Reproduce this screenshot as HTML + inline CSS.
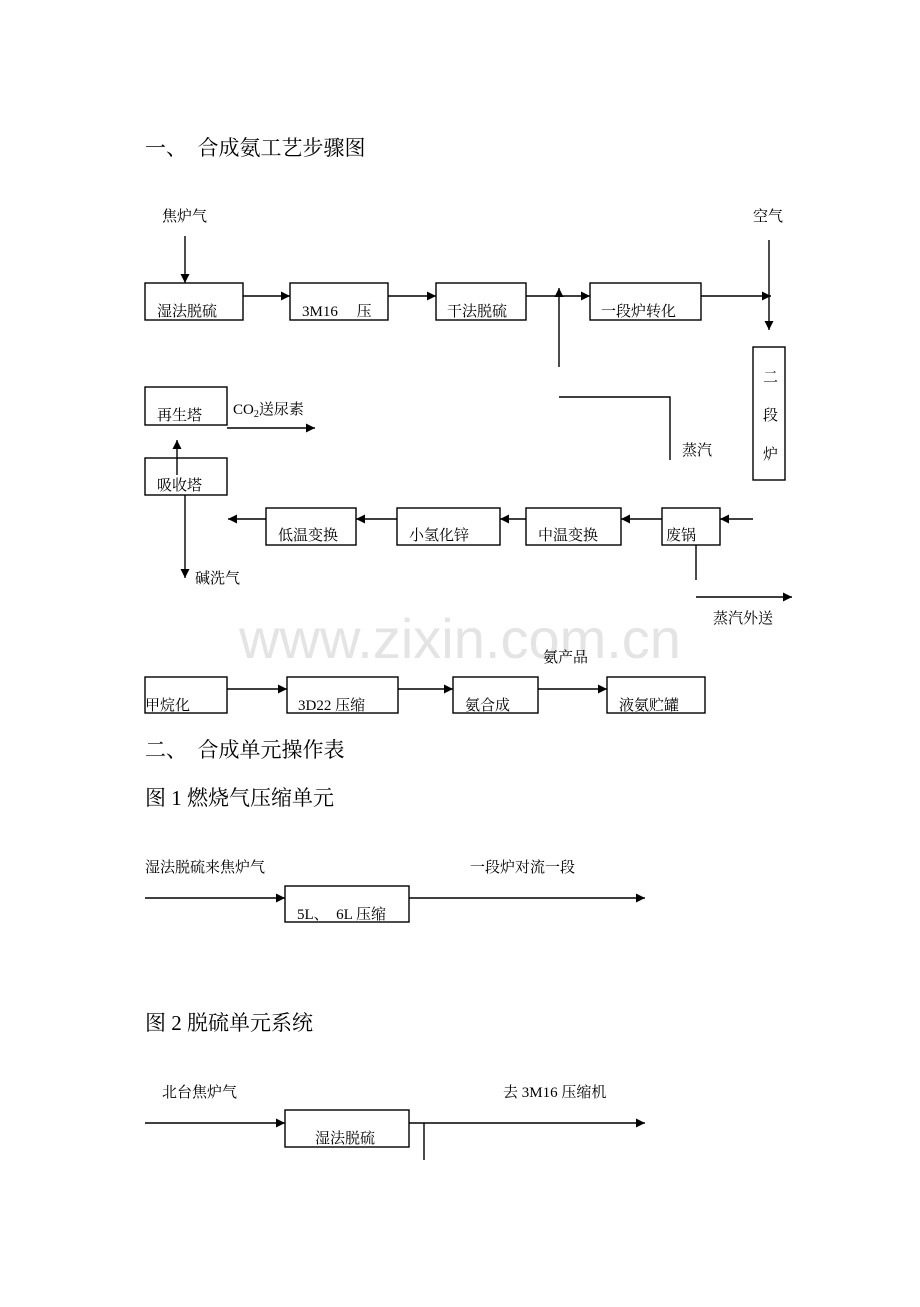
<!DOCTYPE html>
<html><head><meta charset="utf-8"><style>
html,body{margin:0;padding:0;background:#fff}
svg text{font-family:"Liberation Serif","Noto Serif CJK SC",serif;fill:#000}
</style></head><body>
<svg width="920" height="1302" viewBox="0 0 920 1302" xmlns="http://www.w3.org/2000/svg">
<defs><marker id="a" viewBox="0 0 10 10" refX="10" refY="5" markerWidth="9" markerHeight="9" markerUnits="userSpaceOnUse" orient="auto"><path d="M0,0L10,5L0,10z" fill="#000"/></marker></defs>
<g stroke="#000" stroke-width="1.4" fill="none">
<rect x="145" y="283" width="98" height="37"/>
<rect x="290" y="283" width="98" height="37"/>
<rect x="436" y="283" width="90" height="37"/>
<rect x="590" y="283" width="111" height="37"/>
<line x1="185" y1="236" x2="185" y2="283" marker-end="url(#a)"/>
<line x1="243" y1="296" x2="290" y2="296" marker-end="url(#a)"/>
<line x1="388" y1="296" x2="436" y2="296" marker-end="url(#a)"/>
<line x1="526" y1="296" x2="590" y2="296" marker-end="url(#a)"/>
<line x1="701" y1="296" x2="771" y2="296" marker-end="url(#a)"/>
<line x1="769" y1="240" x2="769" y2="330" marker-end="url(#a)"/>
<line x1="559" y1="367" x2="559" y2="288" marker-end="url(#a)"/>
<rect x="753" y="347" width="32" height="133"/>
<polyline points="559,397 670,397 670,460"/>
<rect x="145" y="387" width="82" height="38"/>
<line x1="227" y1="428" x2="315" y2="428" marker-end="url(#a)"/>
<rect x="145" y="458" width="82" height="37"/>
<line x1="177" y1="475" x2="177" y2="440" marker-end="url(#a)"/>
<line x1="185" y1="495" x2="185" y2="578" marker-end="url(#a)"/>
<rect x="266" y="508" width="90" height="37"/>
<rect x="397" y="508" width="103" height="37"/>
<rect x="526" y="508" width="95" height="37"/>
<rect x="662" y="508" width="58" height="37"/>
<line x1="753" y1="519" x2="720" y2="519" marker-end="url(#a)"/>
<line x1="662" y1="519" x2="621" y2="519" marker-end="url(#a)"/>
<line x1="526" y1="519" x2="500" y2="519" marker-end="url(#a)"/>
<line x1="397" y1="519" x2="356" y2="519" marker-end="url(#a)"/>
<line x1="266" y1="519" x2="228" y2="519" marker-end="url(#a)"/>
<line x1="696" y1="545" x2="696" y2="580"/>
<line x1="696" y1="597" x2="792" y2="597" marker-end="url(#a)"/>
<rect x="145" y="677" width="82" height="36"/>
<rect x="287" y="677" width="111" height="36"/>
<rect x="453" y="677" width="85" height="36"/>
<rect x="607" y="677" width="98" height="36"/>
<line x1="227" y1="689" x2="287" y2="689" marker-end="url(#a)"/>
<line x1="398" y1="689" x2="453" y2="689" marker-end="url(#a)"/>
<line x1="538" y1="689" x2="607" y2="689" marker-end="url(#a)"/>
<line x1="145" y1="898" x2="285" y2="898" marker-end="url(#a)"/>
<rect x="285" y="886" width="124" height="36"/>
<line x1="409" y1="898" x2="645" y2="898" marker-end="url(#a)"/>
<line x1="145" y1="1123" x2="285" y2="1123" marker-end="url(#a)"/>
<rect x="285" y="1110" width="124" height="37"/>
<line x1="409" y1="1123" x2="645" y2="1123" marker-end="url(#a)"/>
<line x1="424" y1="1123" x2="424" y2="1160"/>
</g>
<text x="460" y="658" font-size="56" text-anchor="middle" style="fill:#e4e4e4;font-family:'Liberation Sans',sans-serif">www.zixin.com.cn</text>
<g font-size="21">
<text x="145" y="155">一、　合成氨工艺步骤图</text>
<text x="145" y="757">二、　合成单元操作表</text>
<text x="145" y="805">图 1 燃烧气压缩单元</text>
<text x="145" y="1030">图 2 脱硫单元系统</text>
</g>
<g font-size="15">
<text x="162" y="221">焦炉气</text>
<text x="753" y="221">空气</text>
<text x="157" y="316">湿法脱硫</text>
<text x="302" y="316">3M16　 压</text>
<text x="447" y="316">干法脱硫</text>
<text x="601" y="316">一段炉转化</text>
<text x="763" y="382">二</text>
<text x="763" y="420">段</text>
<text x="763" y="459">炉</text>
<text x="682" y="455">蒸汽</text>
<text x="157" y="420">再生塔</text>
<text x="233" y="414">CO<tspan font-size="10" dy="3">2</tspan><tspan dy="-3">送尿素</tspan></text>
<text x="157" y="490">吸收塔</text>
<text x="195" y="583">碱洗气</text>
<text x="278" y="540">低温变换</text>
<text x="409" y="540">小氢化锌</text>
<text x="538" y="540">中温变换</text>
<text x="666" y="540">废锅</text>
<text x="713" y="623">蒸汽外送</text>
<text x="543" y="662">氨产品</text>
<text x="145" y="710">甲烷化</text>
<text x="298" y="710">3D22 压缩</text>
<text x="465" y="710">氨合成</text>
<text x="619" y="710">液氨贮罐</text>
<text x="145" y="872">湿法脱硫来焦炉气</text>
<text x="470" y="872">一段炉对流一段</text>
<text x="297" y="919">5L、　6L 压缩</text>
<text x="162" y="1097">北台焦炉气</text>
<text x="503" y="1097">去 3M16 压缩机</text>
<text x="315" y="1143">湿法脱硫</text>
</g>
</svg>
</body></html>
